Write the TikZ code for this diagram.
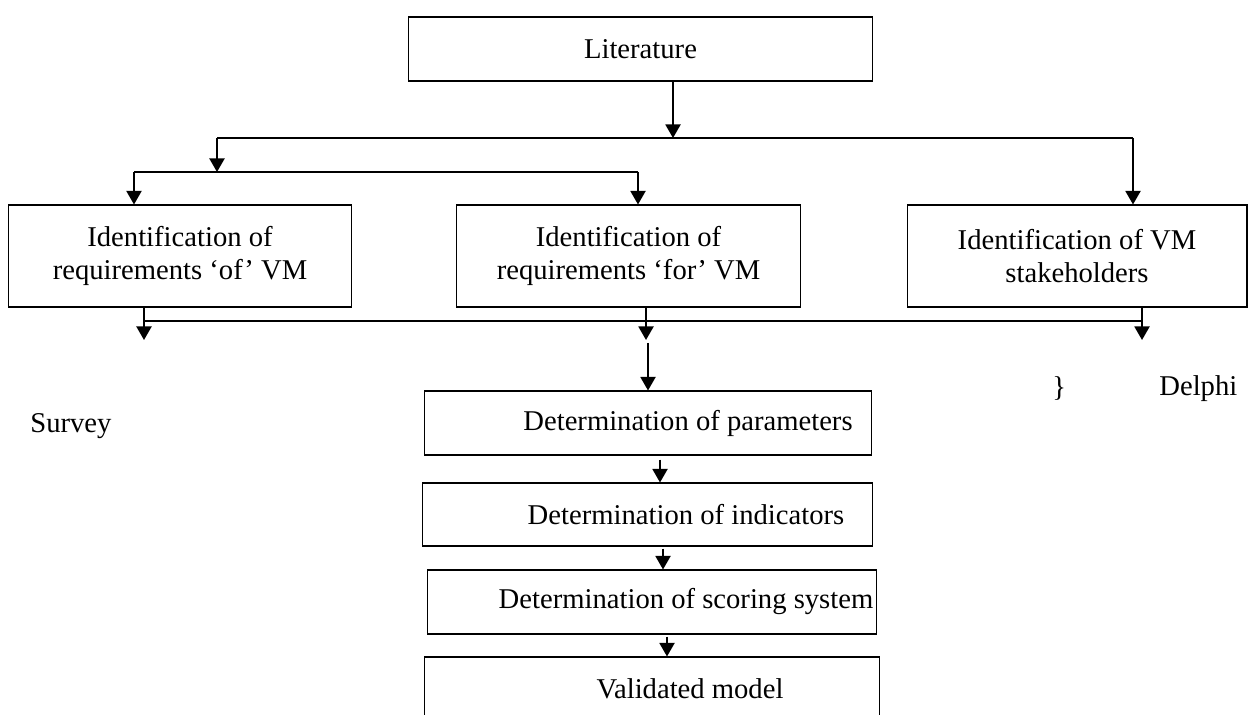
\documentclass[tikz,border=0pt]{standalone}
\usepackage{fontspec}
\setmainfont{Liberation Serif}
\usepackage{tikz}
\usetikzlibrary{positioning,calc,arrows.meta}
\pgfdeclarelayer{background}
\pgfdeclarelayer{foreground}
\pgfsetlayers{background,main,foreground}
\newcommand{\flowfont}{\fontsize{16.3}{18.8}\selectfont}

\begin{document}
\begin{tikzpicture}[x=0.02cm, y=-0.02cm,
					stepbox/.style={rectangle, draw=black, line width=0.6pt, fill=white, align=center, inner sep=0pt, font=\flowfont},
					widebox/.style={stepbox, minimum width=6.88cm, minimum height=2.04cm},
					flatbox/.style={stepbox, minimum width=9cm, minimum height=1.28cm},
					flowarrow/.style={line width=1.1pt, -{Triangle[length=0.27cm,width=0.3cm]}},
					busline/.style={line width=0.6pt},
					sidetext/.style={inner sep=0pt, anchor=base west, font=\flowfont},
					]
					\useasboundingbox (0,0) rectangle (1250,715);
					\clip (0,0) rectangle (1250,715);
					%Nodes
					\node[stepbox, minimum width=9.3cm, minimum height=1.28cm] (lit) at (640.5,49) {Literature};
					\node[widebox]      (ofvm)  at (180,256)    {Identification of\\requirements ‘of’ VM};
					\node[widebox]      (forvm) at (628.5,256)  {Identification of\\requirements ‘for’ VM};
					\node[widebox, minimum width=6.8cm] (stake) at (1077,256) {Identification of VM\\stakeholders};
					\node[flatbox, minimum width=8.96cm, label={[xshift=0.8cm, font=\flowfont]center:Determination of parameters}] (par) at (648,423) {};
					\node[flatbox, minimum width=9.02cm, minimum height=1.26cm, label={[xshift=0.77cm, font=\flowfont]center:Determination of indicators}] (ind) at (647.5,514.5) {};
					\node[flatbox, label={[xshift=0.68cm, font=\flowfont]center:Determination of scoring system}] (sco) at (652,602) {};
					\node[flatbox, minimum width=9.12cm, label={[xshift=0.76cm, font=\flowfont]center:Validated model}] (val) at (652,689) {};
					\node[sidetext]     (survey) at (30,433)    {Survey};
					\node[sidetext]     (brace)  at (1052,397)  {\}};
					\node[sidetext]     (delphi) at (1159,396)  {Delphi};

					%Bus points
					\coordinate (b1) at ($(lit.south)+(32.5,0)$);
					\coordinate (b1l) at (217,138);
					\coordinate (b1r) at (1133,138);
					\coordinate (b2l) at (134,172);
					\coordinate (b2r) at (638,172);
					\coordinate (b3l) at (144,321);
					\coordinate (b3r) at (1142,321);
					\coordinate (o1) at ($(ofvm.south)+(-36,-17)$);
					\coordinate (o2) at ($(forvm.south)+(17.5,-17)$);
					\coordinate (o3) at ($(stake.south)+(65,-17)$);
					\coordinate (mid) at (648,343);
					\coordinate (pi) at ($(par.south)+(12,4)$);
					\coordinate (is) at ($(ind.south)+(15.5,2)$);
					\coordinate (sv) at ($(sco.south)+(15,2)$);

					\begin{pgfonlayer}{background}
					%Lines
					\draw[flowarrow] (b1) -- (b1 |- b1l);
					\draw[busline] (b1l) -- (b1r);
					\draw[flowarrow] (b1l) -- (b1l |- b2l);
					\draw[busline] (b2l) -- (b2r);
					\draw[flowarrow] (b2l) -- (b2l |- ofvm.north);
					\draw[flowarrow] (b2r) -- (b2r |- forvm.north);
					\draw[flowarrow] (b1r) -- (b1r |- stake.north);
					\draw[busline] (b3l) -- (b3r);
					\draw[flowarrow] (o1) -- ($(o1 |- b3l)+(0,19)$);
					\draw[flowarrow] (o2) -- ($(o2 |- b3l)+(0,19)$);
					\draw[flowarrow] (o3) -- ($(o3 |- b3l)+(0,19)$);
					\draw[flowarrow] (mid) -- (mid |- par.north);
					\draw[flowarrow] (pi) -- (pi |- ind.north);
					\draw[flowarrow] (is) -- (is |- sco.north);
					\draw[flowarrow] (sv) -- (sv |- val.north);
					\end{pgfonlayer}
				\end{tikzpicture}
\end{document}
